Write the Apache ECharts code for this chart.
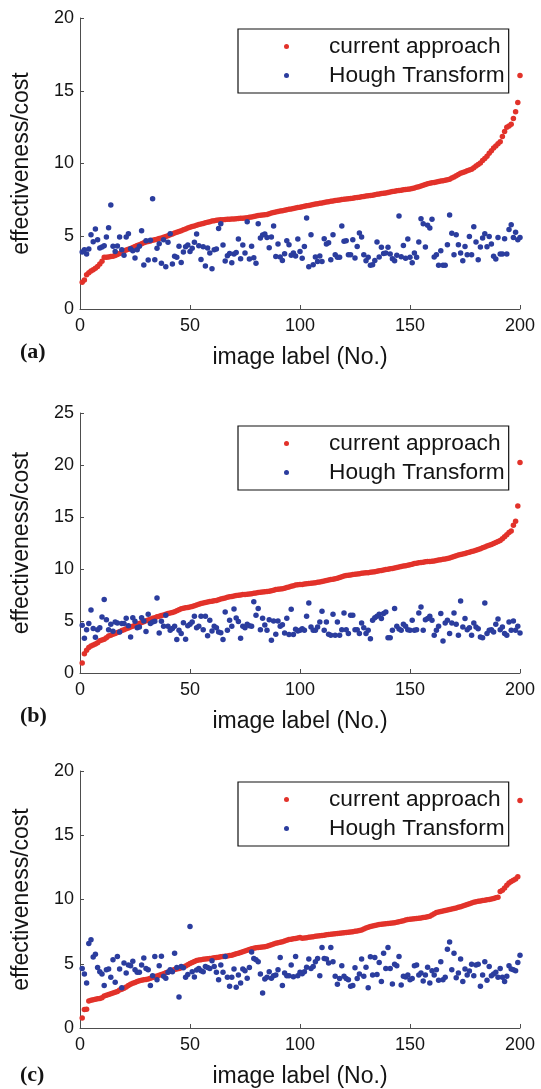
<!DOCTYPE html>
<html><head><meta charset="utf-8">
<script src="https://cdn.jsdelivr.net/npm/echarts@6/dist/echarts.min.js"></script>
<style>html,body{margin:0;padding:0;background:#fff}#c{width:541px;height:1089px}</style>
</head><body><div id="c"></div><script>
// image labels 1..200 (x positions)
const imageLabels = Array.from({length:200}, (_, i) => i + 1);
const xTicks = [0, 50, 100, 150, 200];
const panelLabels = ['(a)', '(b)', '(c)'];
const seriesNames = ['current approach', 'Hough Transform'];

const currentA = [1.83,2.0,2.35,2.5,2.62,2.7,2.8,2.92,3.1,3.28,
3.55,3.56,3.58,3.6,3.63,3.68,3.75,3.82,3.9,3.98,
4.05,4.1,4.16,4.22,4.3,4.36,4.42,4.48,4.55,4.6,
4.64,4.68,4.72,4.76,4.8,4.84,4.88,4.93,4.98,5.04,
5.1,5.16,5.22,5.28,5.33,5.38,5.44,5.5,5.56,5.62,
5.67,5.71,5.75,5.8,5.84,5.88,5.92,5.96,6.0,6.04,
6.07,6.1,6.12,6.13,6.14,6.15,6.16,6.17,6.18,6.19,
6.2,6.22,6.23,6.24,6.26,6.28,6.3,6.33,6.36,6.39,
6.42,6.44,6.46,6.48,6.5,6.55,6.6,6.64,6.67,6.7,
6.73,6.76,6.79,6.82,6.85,6.88,6.91,6.95,6.98,7.0,
7.03,7.06,7.09,7.12,7.15,7.18,7.21,7.24,7.27,7.29,
7.32,7.35,7.37,7.4,7.42,7.45,7.47,7.5,7.52,7.54,
7.56,7.58,7.6,7.62,7.64,7.66,7.68,7.71,7.74,7.76,
7.78,7.8,7.82,7.85,7.88,7.9,7.93,7.95,7.98,8.01,
8.04,8.07,8.1,8.12,8.14,8.16,8.19,8.21,8.23,8.25,
8.28,8.31,8.36,8.4,8.45,8.5,8.55,8.6,8.64,8.67,
8.7,8.73,8.76,8.79,8.82,8.85,8.88,8.92,9.0,9.08,
9.16,9.25,9.33,9.38,9.44,9.5,9.56,9.6,9.7,9.82,
9.93,10.03,10.2,10.35,10.5,10.7,10.88,11.06,11.2,11.35,
11.5,11.86,12.2,12.5,12.58,12.7,13.1,13.55,14.2,16.05];

const houghA = [3.92,4.08,3.78,4.12,5.11,4.63,5.50,4.76,4.19,4.26,
4.35,4.95,5.59,7.15,4.31,3.96,4.33,4.95,4.08,3.69,
4.95,5.18,4.14,4.01,3.50,4.08,4.31,5.38,3.02,4.69,
3.37,4.72,7.58,3.39,4.17,4.49,3.14,4.76,2.91,4.58,
5.18,3.09,3.62,3.55,4.31,3.20,3.92,4.28,4.40,3.96,
4.17,4.58,5.15,4.35,3.41,4.28,2.95,4.19,3.85,2.77,
4.08,4.12,5.54,5.86,4.40,3.30,3.66,3.82,3.18,3.78,
3.89,4.81,3.46,4.40,3.85,6.00,3.43,4.31,3.53,3.14,
5.86,4.88,5.09,5.15,4.92,4.21,4.95,5.70,3.60,4.47,
3.57,3.34,3.80,4.69,4.42,3.69,3.85,3.64,4.81,3.96,
3.48,4.30,6.25,2.91,5.11,3.04,3.57,3.27,3.64,3.27,
4.83,4.47,4.56,3.39,5.11,3.73,3.55,3.55,5.70,4.65,
4.69,3.73,3.73,4.76,3.50,4.30,5.22,4.95,3.73,3.32,
3.55,3.00,3.04,3.34,4.60,3.57,4.24,3.82,3.85,4.24,
3.78,3.46,3.32,3.69,6.39,3.59,4.37,3.48,4.81,3.55,
3.18,3.85,3.55,4.60,6.21,5.86,4.26,5.75,5.56,6.16,
3.57,3.73,3.00,4.01,3.00,3.00,4.42,6.46,5.20,3.73,
5.11,4.42,3.85,3.32,4.30,3.73,4.99,3.73,5.66,4.60,
3.39,4.26,4.88,5.18,4.28,4.99,4.47,3.62,3.43,4.92,
3.78,3.78,4.83,3.78,5.47,5.79,4.92,5.27,4.76,4.92];

const currentB = [0.96,1.86,2.18,2.44,2.6,2.7,2.8,2.9,3.1,3.18,
3.25,3.4,3.55,3.63,3.72,3.8,3.9,3.97,4.08,4.15,
4.25,4.33,4.42,4.5,4.58,4.66,4.75,4.85,4.93,5.02,
5.09,5.18,5.26,5.32,5.4,5.45,5.52,5.58,5.65,5.72,
5.76,5.82,5.88,5.98,6.08,6.17,6.22,6.27,6.31,6.35,
6.4,6.47,6.55,6.62,6.68,6.74,6.78,6.83,6.87,6.9,
6.94,6.98,7.05,7.11,7.16,7.22,7.28,7.32,7.36,7.4,
7.44,7.47,7.51,7.54,7.56,7.58,7.6,7.63,7.66,7.7,
7.73,7.76,7.79,7.82,7.84,7.86,7.9,7.96,8.02,8.05,
8.08,8.11,8.16,8.21,8.27,8.33,8.4,8.46,8.48,8.5,
8.52,8.55,8.58,8.6,8.62,8.65,8.68,8.72,8.76,8.8,
8.85,8.9,8.95,8.98,9.02,9.06,9.12,9.18,9.25,9.32,
9.37,9.4,9.43,9.46,9.49,9.52,9.55,9.58,9.61,9.63,
9.65,9.68,9.71,9.74,9.78,9.82,9.86,9.9,9.94,9.98,
10.02,10.06,10.1,10.15,10.2,10.24,10.28,10.32,10.36,10.4,
10.46,10.52,10.56,10.6,10.63,10.66,10.69,10.71,10.73,10.75,
10.78,10.82,10.86,10.9,10.94,10.97,11.0,11.05,11.12,11.2,
11.28,11.35,11.4,11.45,11.5,11.56,11.62,11.68,11.74,11.8,
11.87,11.95,12.05,12.12,12.2,12.28,12.36,12.45,12.55,12.65,
12.75,12.9,13.1,13.3,13.5,13.65,14.2,14.6,16.05,20.25];

const houghB = [4.59,3.34,4.17,4.75,6.06,4.27,3.43,4.17,4.36,5.39,
7.06,5.13,4.17,4.68,4.01,4.91,4.81,3.95,4.75,4.75,
5.26,4.55,3.46,5.32,4.97,4.36,4.43,5.32,5.0,3.98,
5.64,4.75,4.91,4.97,7.22,3.85,4.97,4.49,5.55,4.49,
4.11,4.27,4.49,3.21,4.11,3.79,4.84,3.24,4.55,4.68,
4.91,5.45,4.36,4.49,5.45,4.17,5.45,3.59,5.07,4.04,
4.49,4.36,3.95,3.88,3.21,5.87,4.11,5.07,4.49,6.16,
5.29,4.94,3.34,4.49,4.36,4.68,4.55,4.49,6.86,5.55,
6.19,4.17,5.26,4.62,4.11,5.13,3.14,5.0,3.72,5.0,
4.49,4.65,3.85,5.26,3.69,6.12,3.69,4.2,4.04,4.11,
4.26,4.1,5.45,6.73,4.43,4.1,4.1,4.43,4.91,5.93,
4.1,4.91,3.72,3.62,5.64,3.62,4.91,3.62,4.17,5.77,
4.17,3.79,5.55,5.55,4.17,4.17,3.79,4.81,4.36,3.79,
4.1,3.3,5.07,5.32,5.45,5.64,5.23,5.71,5.87,3.4,
3.4,4.1,6.19,4.49,4.23,4.1,4.68,4.49,4.17,4.1,
5.07,4.1,4.17,5.77,6.35,4.1,5.13,5.23,5.45,5.07,
3.62,4.1,4.49,5.71,3.08,4.81,5.07,3.79,4.81,5.77,
4.68,3.62,6.93,4.43,5.23,4.17,4.36,3.62,4.81,4.43,
4.26,3.46,3.4,6.73,3.79,4.1,4.17,3.95,4.68,5.19,
4.17,4.43,3.79,3.62,4.91,4.1,5.0,4.1,4.49,3.85];

const currentC = [0.77,1.44,1.45,2.1,2.15,2.2,2.24,2.28,2.3,2.35,
2.5,2.55,2.6,2.67,2.72,2.78,2.85,2.95,3.02,3.1,
3.2,3.3,3.4,3.48,3.55,3.62,3.67,3.72,3.75,3.78,
3.82,3.87,3.93,4.0,4.05,4.1,4.16,4.23,4.3,4.36,
4.42,4.5,4.56,4.6,4.64,4.68,4.74,4.82,4.92,5.02,
5.1,5.18,5.25,5.29,5.32,5.35,5.37,5.39,5.41,5.43,
5.46,5.48,5.5,5.54,5.57,5.59,5.61,5.64,5.67,5.72,
5.77,5.82,5.88,5.94,6.0,6.06,6.11,6.16,6.2,6.24,
6.26,6.28,6.3,6.33,6.37,6.42,6.47,6.53,6.59,6.63,
6.67,6.72,6.77,6.83,6.88,6.91,6.94,6.97,7.0,7.04,
6.98,7.0,7.03,7.06,7.08,7.11,7.14,7.16,7.18,7.2,
7.22,7.25,7.27,7.3,7.32,7.34,7.36,7.38,7.4,7.42,
7.44,7.46,7.48,7.5,7.52,7.55,7.58,7.63,7.7,7.78,
7.85,7.9,7.94,7.98,8.02,8.05,8.08,8.1,8.12,8.14,
8.16,8.18,8.2,8.22,8.26,8.3,8.35,8.4,8.44,8.47,
8.49,8.51,8.53,8.55,8.57,8.59,8.62,8.65,8.7,8.8,
8.9,8.98,9.03,9.07,9.1,9.14,9.18,9.22,9.26,9.3,
9.34,9.39,9.44,9.49,9.55,9.61,9.67,9.73,9.78,9.83,
9.86,9.89,9.92,9.95,9.98,10.0,10.04,10.08,10.13,10.18,
10.62,10.72,10.9,11.1,11.28,11.4,11.5,11.6,11.78,17.7];

const houghC = [4.64,4.2,3.5,6.57,6.86,5.53,5.74,4.71,4.38,4.2,
3.3,4.53,4.59,3.94,5.31,3.56,5.56,4.59,3.14,5.05,
4.28,4.9,4.84,5.2,4.53,4.33,4.33,4.9,5.44,4.64,
4.53,3.3,4.07,5.56,3.76,4.84,5.59,4.02,3.87,4.33,
4.53,4.38,5.82,4.71,2.42,4.79,4.69,3.94,4.17,7.89,
4.38,3.97,4.51,4.64,4.46,4.38,4.79,4.71,4.64,5.23,
4.79,4.33,3.76,4.9,4.33,5.56,3.94,3.25,3.94,4.59,
3.17,4.12,3.5,4.59,4.46,3.87,4.71,5.92,5.41,5.31,
5.15,4.2,2.73,3.81,3.94,4.38,3.87,4.07,4.12,4.53,
5.49,3.3,4.28,4.07,4.07,4.9,3.99,5.56,4.07,4.33,
4.23,4.38,4.72,5.36,4.64,4.79,5.15,5.41,4.07,6.26,
5.41,5.36,5.05,6.26,5.15,4.02,3.4,3.86,4.84,4.02,
3.86,3.76,3.25,3.3,4.69,3.86,4.2,5.36,4.02,4.72,
3.14,5.54,4.12,5.49,4.17,5.1,3.61,5.82,4.64,6.26,
4.64,3.43,4.97,4.84,5.57,3.35,4.02,3.97,4.12,3.76,
3.86,4.84,4.9,4.12,4.28,3.66,4.12,4.72,3.5,4.46,
4.12,4.53,3.71,5.15,3.76,3.94,6.13,6.7,4.53,5.82,
3.92,4.28,5.36,3.61,4.59,4.12,4.43,4.97,4.07,4.9,
4.97,3.25,4.12,5.15,3.71,4.79,4.07,4.2,4.33,3.94,
4.64,3.94,3.61,4.02,4.84,4.59,4.53,4.46,5.1,5.67];

const panels = [
  {current: currentA, hough: houghA, yMax: 20},
  {current: currentB, hough: houghB, yMax: 25},
  {current: currentC, hough: houghC, yMax: 20}
];

const FONT = '"Liberation Sans", Arial, Helvetica, sans-serif';
const TXT = '#141414';
const AX = '#4d4d4d';
const RED = '#e2322a';
const BLUE = '#2b3d9e';
const grids = [
  {left: 80, top: 18, width: 440, height: 291},
  {left: 80, top: 413, width: 440, height: 260},
  {left: 80, top: 771, width: 440, height: 258}
];
const legendTops = [29, 426, 782];
const panelLabelY = [353, 717, 1076];

const pair = arr => arr.map((v, i) => [imageLabels[i], v]);

const option = {
  animation: false,
  backgroundColor: '#fff',
  textStyle: {fontFamily: FONT},
  grid: grids,
  xAxis: grids.map((g, k) => ({
    gridIndex: k, type: 'value', min: xTicks[0], max: xTicks[xTicks.length - 1], interval: 50,
    name: 'image label (No.)', nameLocation: 'middle', nameGap: 37,
    nameTextStyle: {fontSize: 23, color: TXT, fontFamily: FONT},
    axisLine: {show: true, lineStyle: {color: AX, width: 1}},
    axisTick: {show: true, inside: true, length: 4, lineStyle: {color: AX}},
    axisLabel: {fontSize: 18, color: TXT, margin: 8, fontFamily: FONT},
    splitLine: {show: false}
  })),
  yAxis: grids.map((g, k) => ({
    gridIndex: k, type: 'value', min: 0, max: panels[k].yMax, interval: 5,
    name: 'effectiveness/cost', nameLocation: 'middle', nameGap: 47,
    nameTextStyle: {fontSize: 23, color: TXT, fontFamily: FONT},
    axisLine: {show: true, onZero: false, lineStyle: {color: AX, width: 1}},
    axisTick: {show: true, inside: true, length: 4, lineStyle: {color: AX}},
    axisLabel: {fontSize: 18, color: TXT, margin: 6, fontFamily: FONT},
    splitLine: {show: false}
  })),
  legend: legendTops.map(t => ({
    data: seriesNames, orient: 'vertical', left: 238, top: t,
    icon: 'circle', itemWidth: 5, itemHeight: 5, itemGap: 6,
    padding: [6, 4, 6, 46], borderColor: '#111', borderWidth: 1.2, backgroundColor: '#fff',
    selectedMode: false,
    textStyle: {fontSize: 22.7, color: TXT, fontFamily: FONT, padding: [0, 0, 0, 35]}
  })),
  graphic: panelLabels.map((s, k) => ({
    type: 'text', left: 20, top: panelLabelY[k] - 12,
    style: {text: s, font: 'bold 22px "Liberation Serif", "Times New Roman", serif', fill: TXT}
  })),
  series: []
};
panels.forEach((p, k) => {
  option.series.push({
    name: seriesNames[0], type: 'scatter', xAxisIndex: k, yAxisIndex: k,
    data: pair(p.current), symbol: 'circle', symbolSize: 5.5,
    itemStyle: {color: RED, opacity: 1}
  });
  option.series.push({
    name: seriesNames[1], type: 'scatter', xAxisIndex: k, yAxisIndex: k,
    data: pair(p.hough), symbol: 'circle', symbolSize: 5.5,
    itemStyle: {color: BLUE, opacity: 1}
  });
});
const chart = echarts.init(document.getElementById('c'), null, {renderer: 'canvas'});
chart.setOption(option);
</script></body></html>
